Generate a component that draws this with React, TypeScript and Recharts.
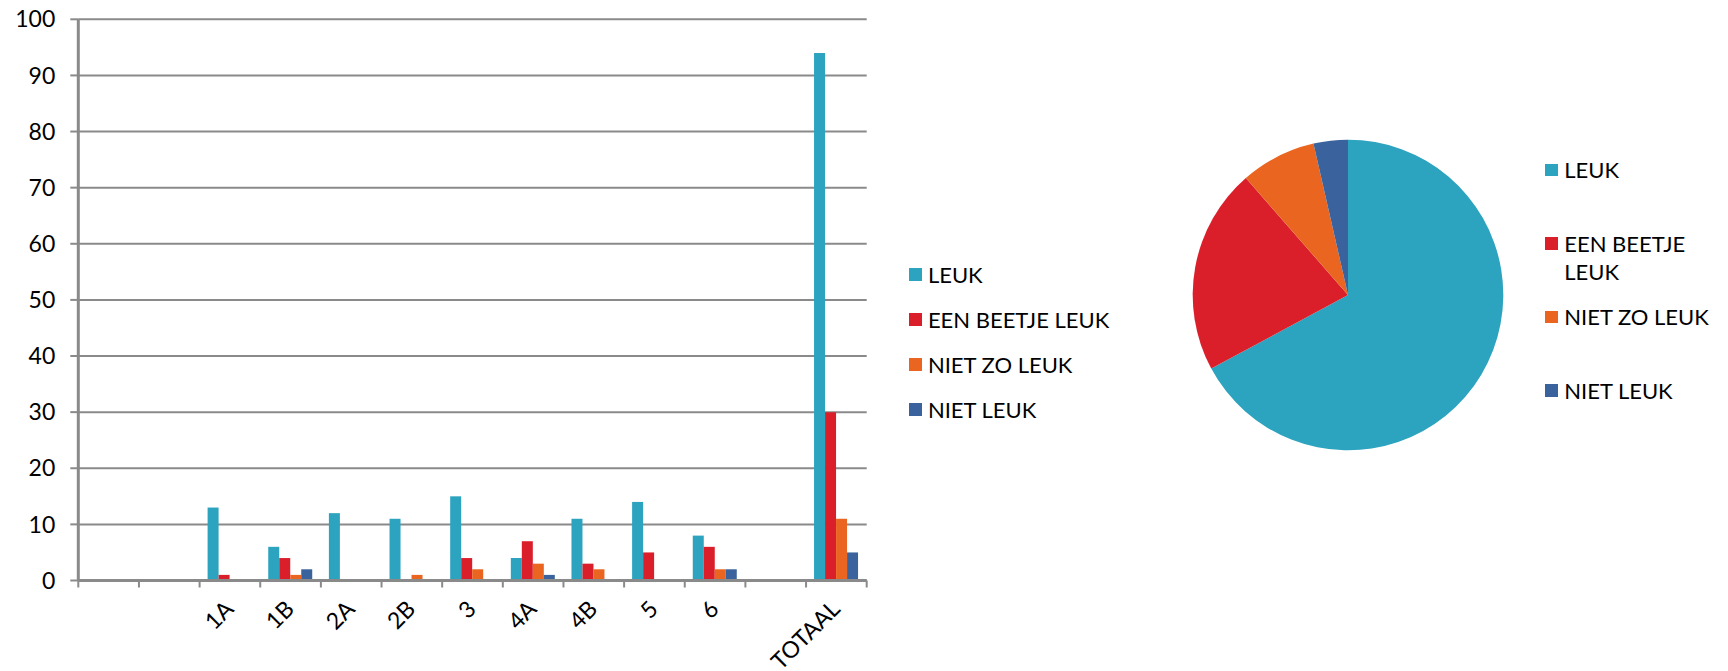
import React from 'react';
import { BarChart, Bar, XAxis, YAxis, CartesianGrid, Legend, PieChart, Pie, Cell } from 'recharts';

const categories = ['', ' ', '1A', '1B', '2A', '2B', '3', '4A', '4B', '5', '6', '  ', 'TOTAAL'];
const seriesNames = ['LEUK', 'EEN BEETJE LEUK', 'NIET ZO LEUK', 'NIET LEUK'];
const leuk = [null, null, 13, 6, 12, 11, 15, 4, 11, 14, 8, null, 94];
const eenBeetjeLeuk = [null, null, 1, 4, 0, 0, 4, 7, 3, 5, 6, null, 30];
const nietZoLeuk = [null, null, 0, 1, 0, 1, 2, 3, 2, 0, 2, null, 11];
const nietLeuk = [null, null, 0, 2, 0, 0, 0, 1, 0, 0, 2, null, 5];
const pieValues = [94, 30, 11, 5];
const yTicks = [0, 10, 20, 30, 40, 50, 60, 70, 80, 90, 100];
const colors = ['#2ca3bf', '#da1f2a', '#ea6620', '#3a639d'];

const FONT = 'Lato, "Noto Sans", sans-serif';
const GRID = '#8a8a8a';

const CHART_W = 1120;
const CHART_H = 663;
const MARGIN = { top: 11.3, right: 261.3, bottom: 0, left: 0 };
const Y_W = 70.3;
const X_H = 90.5;
const PLOT_W = CHART_W - MARGIN.left - MARGIN.right - Y_W;

const barData = categories.map((c, i) => ({
  cat: c,
  leuk: leuk[i],
  een: eenBeetjeLeuk[i],
  nietzo: nietZoLeuk[i],
  niet: nietLeuk[i],
}));
const seriesKeys = ['leuk', 'een', 'nietzo', 'niet'];

const pieData = seriesNames.map((n, i) => ({ name: n, value: pieValues[i] }));

const XTick = (props: any) => {
  const { x, y, payload, index } = props;
  const half = PLOT_W / categories.length / 2;
  const axisY = y - 6;
  const tx = x + 5;
  const ty = y + 24;
  return (
    <g>
      <line x1={x - half} x2={x - half} y1={axisY} y2={axisY + 7} stroke={GRID} strokeWidth={2} />
      {index === categories.length - 1 && (
        <line x1={x + half} x2={x + half} y1={axisY} y2={axisY + 7} stroke={GRID} strokeWidth={2} />
      )}
      <text
        x={tx}
        y={ty}
        textAnchor="end"
        fontSize={23}
        fontFamily={FONT}
        fill="#000"
        transform={`rotate(-45, ${tx}, ${ty})`}
      >
        {payload.value}
      </text>
    </g>
  );
};

const BarLegend = () => (
  <div style={{ fontFamily: FONT }}>
    {seriesNames.map((n, i) => (
      <div key={n} style={{ height: 44.7, display: 'flex', alignItems: 'center' }}>
        <div style={{ width: 13, height: 13, background: colors[i], marginRight: 5.6, flex: 'none' }} />
        <span style={{ fontSize: 22, color: '#000', whiteSpace: 'nowrap' }}>{n}</span>
      </div>
    ))}
  </div>
);

export default function App() {
  return (
    <div style={{ position: 'relative', width: 1712, height: CHART_H, fontFamily: FONT }}>
      <style>{'html,body{overflow:hidden}.recharts-surface{overflow:visible}'}</style>
      <div style={{ position: 'absolute', left: 0, top: 0 }}>
        <BarChart
          width={CHART_W}
          height={CHART_H}
          data={barData}
          margin={MARGIN}
          barCategoryGap={8}
          barGap={0}
        >
          <CartesianGrid vertical={false} stroke={GRID} strokeWidth={2} />
          <XAxis
            dataKey="cat"
            interval={0}
            height={X_H}
            tickLine={false}
            tickSize={6}
            tickMargin={0}
            axisLine={{ stroke: GRID, strokeWidth: 3 }}
            tick={<XTick />}
          />
          <YAxis
            domain={[0, 100]}
            ticks={yTicks}
            interval={0}
            width={Y_W}
            tickSize={8}
            tickMargin={15}
            tickLine={{ stroke: GRID, strokeWidth: 2 }}
            axisLine={{ stroke: GRID, strokeWidth: 3 }}
            tick={{ fontSize: 23, fill: '#000', fontFamily: FONT }}
          />
          <Legend
            layout="vertical"
            align="center"
            verticalAlign="middle"
            wrapperStyle={{ left: 901.3, top: 244.6, width: 215 }}
            content={<BarLegend />}
          />
          {seriesKeys.map((k, i) => (
            <Bar key={k} dataKey={k} name={seriesNames[i]} fill={colors[i]} isAnimationActive={false} />
          ))}
        </BarChart>
      </div>

      <div style={{ position: 'absolute', left: 1179.5, top: 126.7, width: 320, height: 320 }}>
        <PieChart width={320} height={320} margin={{ top: 0, right: 0, bottom: 0, left: 0 }}>
          <Pie
            data={pieData}
            dataKey="value"
            nameKey="name"
            cx={160}
            cy={160}
            outerRadius={155.3}
            startAngle={90}
            endAngle={-270}
            stroke="none"
            isAnimationActive={false}
          >
            {pieData.map((d, i) => (
              <Cell key={d.name} fill={colors[i]} />
            ))}
          </Pie>
        </PieChart>
      </div>

      <div style={{ position: 'absolute', left: 1537, top: 148, width: 190 }}>
        {pieData.map((d, i) => (
          <div key={d.name} style={{ height: 73.6, display: 'flex', alignItems: 'flex-start' }}>
            <div style={{ width: 12.7, height: 12.7, background: colors[i], marginTop: 7.6, marginRight: 6.6, flex: 'none' }} />
            <div style={{ fontSize: 22, lineHeight: '28px', width: 160, color: '#000' }}>{d.name}</div>
          </div>
        ))}
      </div>
    </div>
  );
}
